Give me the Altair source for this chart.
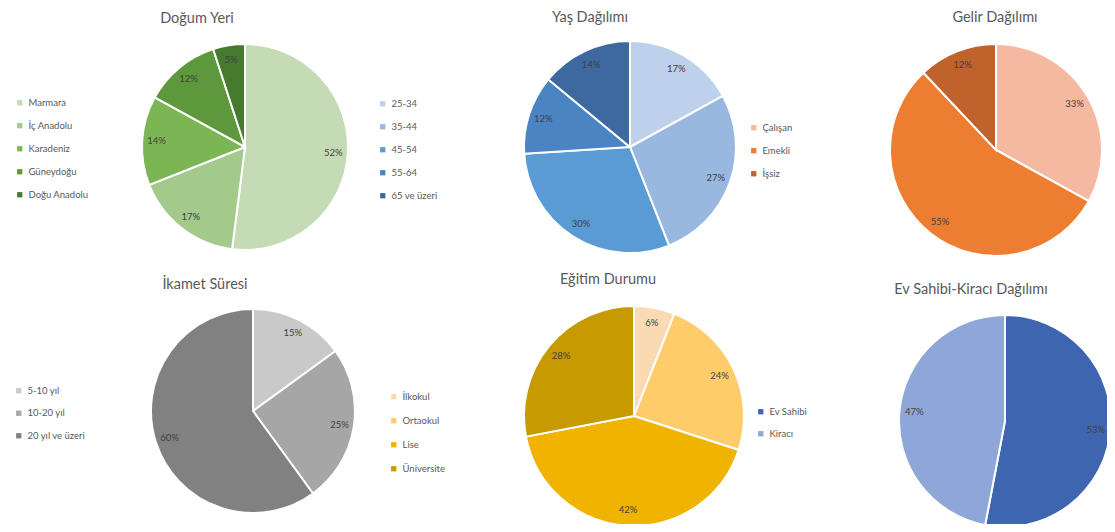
import altair as alt
import pandas as pd

FONT = "Lato"
TITLE_COLOR = "#595959"
LABEL_COLOR = "#404040"

# ---- data -------------------------------------------------------------
birth_title = "Doğum Yeri"
birth_cats = ["Marmara", "İç Anadolu", "Karadeniz", "Güneydoğu", "Doğu Anadolu"]
birth_vals = [52, 17, 14, 12, 5]
birth_colors = ["#C5DBB5", "#A3C98B", "#7CB553", "#5E983C", "#467A2E"]

age_title = "Yaş Dağılımı"
age_cats = ["25-34", "35-44", "45-54", "55-64", "65 ve üzeri"]
age_vals = [17, 27, 30, 12, 14]
age_colors = ["#BDD0EC", "#98B8E0", "#5B9BD5", "#4A84C2", "#3D69A0"]

income_title = "Gelir Dağılımı"
income_cats = ["Çalışan", "Emekli", "İşsiz"]
income_vals = [33, 55, 12]
income_colors = ["#F4B9A0", "#ED7D31", "#C0622C"]

res_title = "İkamet Süresi"
res_cats = ["5-10 yıl", "10-20 yıl", "20 yıl ve üzeri"]
res_vals = [15, 25, 60]
res_colors = ["#C9C9C9", "#A6A6A6", "#818181"]

edu_title = "Eğitim Durumu"
edu_cats = ["İlkokul", "Ortaokul", "Lise", "Üniversite"]
edu_vals = [6, 24, 42, 28]
edu_colors = ["#F9DAB2", "#FFCB6B", "#EFB300", "#C69A00"]

home_title = "Ev Sahibi-Kiracı Dağılımı"
home_cats = ["Ev Sahibi", "Kiracı"]
home_vals = [53, 47]
home_colors = ["#3E66B0", "#8FA6D8"]


def pie(title, cats, vals, colors, cx, cy, r, tx, ty, lx, ly, row_pad):
    df = pd.DataFrame({
        "cat": cats,
        "val": vals,
        "o": list(range(len(cats))),
        "lbl": [f"{v}%" for v in vals],
    })
    base = alt.Chart(df).encode(
        theta=alt.Theta("val:Q", stack=True),
        order=alt.Order("o:Q"),
        x=alt.value(cx),
        y=alt.value(cy),
    )
    arc = base.mark_arc(outerRadius=r, stroke="white", strokeWidth=2).encode(
        color=alt.Color(
            "cat:N",
            scale=alt.Scale(domain=cats, range=colors),
            sort=cats,
            legend=alt.Legend(
                title=None,
                orient="none",
                legendX=lx,
                legendY=ly,
                symbolType="square",
                symbolSize=28,
                symbolStrokeWidth=0,
                labelFont=FONT,
                labelFontSize=9.5,
                labelColor=TITLE_COLOR,
                rowPadding=row_pad,
                labelOffset=4,
                padding=0,
            ),
        )
    )
    text = base.mark_text(
        radius=0.86 * r, font=FONT, fontSize=9.5, color=LABEL_COLOR
    ).encode(text="lbl:N")
    ttl = alt.Chart(pd.DataFrame({"t": [title]})).mark_text(
        font=FONT, fontSize=14.5, color=TITLE_COLOR, baseline="middle", align="center"
    ).encode(text="t:N", x=alt.value(tx), y=alt.value(ty))
    return alt.layer(arc, text, ttl)


pies = [
    pie(birth_title, birth_cats, birth_vals, birth_colors, 237, 139, 103, 189, 11, 7, 90, 12),
    pie(age_title, age_cats, age_vals, age_colors, 622, 139, 106, 582, 10, 370, 91, 12),
    pie(income_title, income_cats, income_vals, income_colors, 988, 142, 106, 987, 10, 741, 115, 12),
    pie(res_title, res_cats, res_vals, res_colors, 245, 403, 102, 197, 277, 6, 378, 11.5),
    pie(edu_title, edu_cats, edu_vals, edu_colors, 626, 408, 110, 600, 272, 381, 384, 13),
    pie(home_title, home_cats, home_vals, home_colors, 997, 413, 106, 963, 282, 748, 399, 11),
]

chart = (
    alt.layer(*pies)
    .resolve_scale(theta="independent", color="independent")
    .properties(width=1099, height=516, autosize="none", padding=0)
    .configure_view(stroke=None)
)

chart.save("out.html", embed_options={"renderer": "svg", "actions": False})
